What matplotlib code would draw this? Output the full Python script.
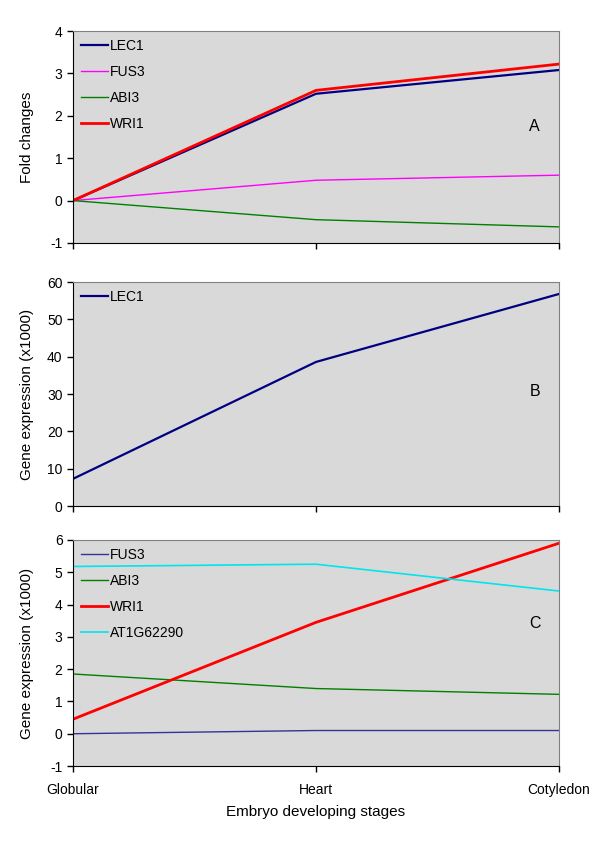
import numpy as np
import matplotlib.pyplot as plt

plt.rcParams["font.family"] = ["Liberation Sans", "DejaVu Sans"]
plt.rcParams["axes.unicode_minus"] = False

stages = ["Globular", "Heart", "Cotyledon"]

# panel A: fold changes
a_lec1 = [0, 2.52, 3.08]
a_fus3 = [0, 0.48, 0.60]
a_abi3 = [0, -0.45, -0.62]
a_wri1 = [0, 2.60, 3.22]

# panel B: LEC1 expression (x1000)
b_lec1 = [7.3, 38.6, 56.8]

# panel C: expression (x1000)
c_fus3 = [0.0, 0.10, 0.10]
c_abi3 = [1.85, 1.40, 1.22]
c_wri1 = [0.45, 3.45, 5.90]
c_at1g = [5.18, 5.25, 4.42]

x = np.arange(len(stages))
bg = "#d9d9d9"

fig = plt.figure(figsize=(6, 8.52), dpi=100)
axA = fig.add_axes([0.1217, 0.7148, 0.81, 0.2488])
axB = fig.add_axes([0.1217, 0.406, 0.81, 0.263])
axC = fig.add_axes([0.1217, 0.1009, 0.81, 0.2653])


def style(ax, ylim, yticks, letter, ly, show_x=False):
    ax.set_facecolor(bg)
    ax.set_xlim(0, 2)
    ax.set_ylim(*ylim)
    ax.set_yticks(yticks)
    ax.set_xticks(x)
    ax.tick_params(axis="both", direction="out", length=4, width=1, labelsize=10)
    if show_x:
        ax.set_xticklabels(stages)
        ax.tick_params(axis="x", pad=8)
    else:
        ax.set_xticklabels([])
    for s in ["top", "right"]:
        ax.spines[s].set_color("#808080")
    for s in ["left", "bottom"]:
        ax.spines[s].set_color("black")
    ax.text(0.95, ly, letter, transform=ax.transAxes, fontsize=11.5,
            ha="center", va="center")
    ax.legend(loc="upper left", frameon=False, fontsize=10,
              handlelength=1.9, handletextpad=0.15, labelspacing=0.85,
              borderaxespad=0.3, borderpad=0.3)


axA.plot(x, a_lec1, color="#000080", lw=1.6, label="LEC1")
axA.plot(x, a_fus3, color="#ff00ff", lw=1.0, label="FUS3")
axA.plot(x, a_abi3, color="#008000", lw=1.0, label="ABI3")
axA.plot(x, a_wri1, color="#ff0000", lw=2.0, label="WRI1")
style(axA, (-1, 4), range(-1, 5), "A", 0.55)
axA.set_ylabel("Fold changes", fontsize=11)

axB.plot(x, b_lec1, color="#000080", lw=1.6, label="LEC1")
style(axB, (0, 60), range(0, 61, 10), "B", 0.51)
axB.set_ylabel("Gene expression (x1000)", fontsize=11)

axC.plot(x, c_fus3, color="#333399", lw=1.0, label="FUS3")
axC.plot(x, c_abi3, color="#008000", lw=1.0, label="ABI3")
axC.plot(x, c_wri1, color="#ff0000", lw=2.0, label="WRI1")
axC.plot(x, c_at1g, color="#00e5ee", lw=1.2, label="AT1G62290")
style(axC, (-1, 6), range(-1, 7), "C", 0.63, show_x=True)
axC.set_ylabel("Gene expression (x1000)", fontsize=11)
axC.set_xlabel("Embryo developing stages", fontsize=11, labelpad=6)

for ax in (axA, axB, axC):
    ax.yaxis.set_label_coords(-0.08, 0.5)

fig.savefig("out.png", dpi=100)
